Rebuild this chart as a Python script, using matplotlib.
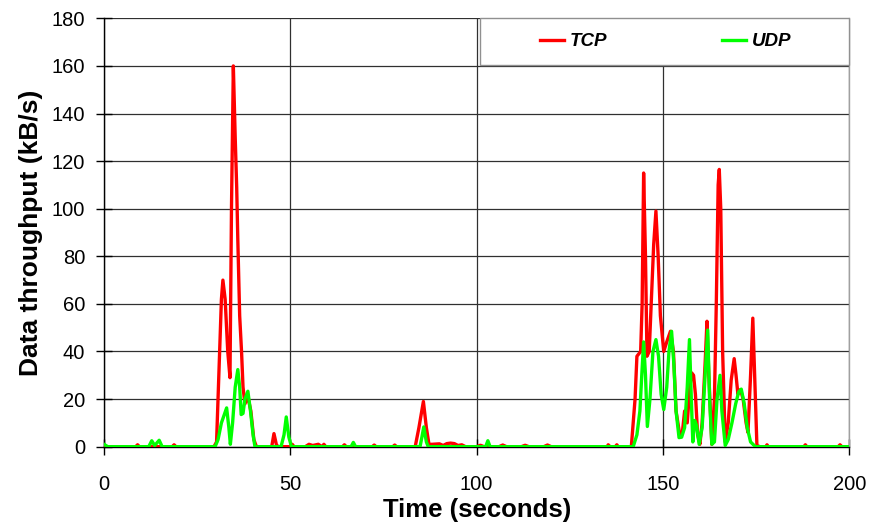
import matplotlib
matplotlib.use("Agg")
import matplotlib.pyplot as plt
from matplotlib.patches import Rectangle

plt.rcParams['font.family'] = ['Liberation Sans', 'DejaVu Sans']

# TCP series (time in s, throughput kB/s)
tcp_t = [0, 8.5, 9, 9.5, 18.3, 18.8, 19.3, 29.5, 30.2, 30.8, 31.5, 31.9, 32.5, 33.2, 33.8,
         34.2, 34.7, 35.2, 35.6, 35.9, 36.4, 36.9, 37.3, 37.8, 38.6, 39.4, 40.2, 40.9,
         45, 45.6, 46.3, 47, 50, 50.5, 51, 54, 55, 56, 57.5, 58.5, 59, 59.5, 64, 64.5, 65,
         72, 72.5, 73, 77.5, 78, 78.5, 83.5, 84.5, 85.7, 86.5, 87.2, 88, 90, 91, 92, 93, 94,
         95, 96, 97, 100, 101, 102, 106, 107, 108, 112, 113, 114, 118, 119, 120,
         135, 135.3, 135.8, 137.2, 137.6, 138,
         141.5, 142.5, 143, 144, 144.4, 144.8, 145.3, 145.7, 146.3, 147.5, 148.1, 148.7,
         149.3, 150.2, 151, 152, 152.8, 153.5, 154.6, 155.2, 155.8, 156.5, 157.2, 157.7,
         158.2, 158.7, 159.3, 159.9, 160.5, 161.3, 161.8, 162.3, 163.1, 163.8, 164.3, 164.8,
         165.1, 165.5, 166, 166.7, 167.5, 168.3, 169.1, 169.6, 170.1, 170.8, 171.5, 172.3,
         172.8, 173.5, 174.1, 174.6, 175.2, 176, 177.6, 177.9, 178.3, 187.8, 188.2, 188.6,
         197, 197.5, 198, 200]
tcp_v = [0, 0, 0.8, 0, 0, 0.8, 0, 0, 2, 30, 62, 70, 62, 40, 29,
         100, 160, 130, 109, 87, 55, 40, 25, 18, 21, 15, 3, 0,
         0, 5.5, 0.5, 0, 0, 1, 0, 0, 1, 0.5, 1, 0, 1, 0, 0, 0.8, 0,
         0, 0.7, 0, 0, 0.7, 0, 0, 8, 19, 8, 1, 1, 1.2, 0.5, 1.3, 1.5, 1.3,
         0.5, 0.8, 0, 0, 0.6, 0, 0, 0.7, 0, 0, 0.6, 0, 0, 0.7, 0,
         0, 0.8, 0, 0, 0.8, 0,
         0, 20, 38, 40, 60, 115, 80, 38, 40, 85, 99, 80,
         55, 40, 44, 48.5, 40, 15, 4, 6, 15, 10, 25, 31,
         30, 22, 5, 1, 10, 35, 52.7, 30, 1, 20, 60, 110,
         116.5, 100, 40, 2, 10, 28, 37, 30, 22, 24, 20, 10,
         6, 30, 54, 30, 0.5, 0, 0, 0.8, 0, 0, 0.8, 0,
         0, 0.8, 0, 0]

# UDP series
udp_t = [0, 0.5, 1, 12, 12.8, 13.6, 14.8, 15.6, 29.8, 30.6, 31.5, 32.9, 33.5, 33.9, 34.5,
         35.2, 35.9, 36.4, 36.8, 37.3, 37.8, 38.6, 39.3, 40, 40.5, 47.5, 48.3, 48.9, 49.6,
         50.3, 66.3, 66.9, 67.5, 84.8, 85.3, 85.8, 86.5, 87, 102.4, 103, 103.6,
         142, 143, 143.8, 144.3, 144.8, 145.3, 145.8, 146.5, 147.3, 148.1, 148.8, 149.5,
         150.2, 151, 151.6, 152.3, 152.9, 153.5, 154.3, 155, 155.8, 156.5, 157.1, 157.6,
         158, 158.5, 159, 159.7, 160.5, 161.3, 162, 162.5, 163.1, 163.8, 164.5, 165.3,
         165.8, 166.7, 167.5, 168.5, 169.5, 170.3, 171, 171.8, 172.6, 173.5, 174.8, 200]
udp_v = [1, 0.5, 0, 0, 2.5, 0.5, 2.7, 0, 0, 3, 10, 16.3, 8, 1, 10,
         25, 32.4, 25, 13.5, 14, 20, 23.3, 15, 5, 0, 0, 5, 12.5, 4,
         0, 0, 1.8, 0, 0, 4, 8.3, 2, 0, 0, 2.5, 0,
         0, 5, 15, 30, 44, 30, 8.5, 20, 40, 45, 38, 22,
         15.6, 25, 40, 48.5, 35, 15, 3.8, 4, 8, 25, 45, 20,
         2, 11, 9, 1, 8, 30, 49, 20, 1, 2, 20, 30,
         15, 0.5, 3, 10, 18, 23, 24.2, 18, 8, 2, 0, 0]

x_ticks = [0, 50, 100, 150, 200]
y_ticks = [0, 20, 40, 60, 80, 100, 120, 140, 160, 180]

fig = plt.figure(figsize=(8.72, 5.27), dpi=100)
ax = fig.add_axes([0.1193, 0.1524, 0.8547, 0.8128])

ax.plot(tcp_t, tcp_v, color='#FF0000', lw=2.4, label='TCP', zorder=3, solid_joinstyle='round')
ax.plot(udp_t, udp_v, color='#00FF00', lw=2.4, label='UDP', zorder=4, solid_joinstyle='round')

ax.set_xlim(0, 200)
ax.set_ylim(0, 180)
ax.set_xticks(x_ticks)
ax.set_yticks(y_ticks)
ax.grid(True, color='#303030', lw=0.9, zorder=1)
ax.set_axisbelow(True)

for s in ['left', 'bottom']:
    ax.spines[s].set_color('black')
    ax.spines[s].set_linewidth(1.0)
ax.spines['top'].set_visible(False)
ax.spines['right'].set_color('#a0a0a0')
ax.spines['right'].set_linewidth(1.0)

ax.tick_params(axis='both', direction='inout', length=11, width=1, labelsize=14.5)
ax.tick_params(axis='x', pad=15)
ax.tick_params(axis='y', pad=8)

ax.set_xlabel('Time (seconds)', fontsize=18.5, fontweight='bold', labelpad=3)
ax.set_ylabel('Data throughput (kB/s)', fontsize=19, fontweight='bold', labelpad=6)

# legend box
bx0, by0, bw, bh = 0.5045, 0.891, 0.4955, 0.109
ax.add_patch(Rectangle((bx0, by0), bw, bh, transform=ax.transAxes, facecolor='white',
                       edgecolor='#909090', lw=1.0, zorder=9, clip_on=False))
leg = ax.legend(loc='center', bbox_to_anchor=(bx0 + bw / 2 + 0.001, by0 + bh / 2),
                ncol=2, frameon=False, handlelength=1.28, handletextpad=0.32,
                columnspacing=6.1, borderaxespad=0,
                prop={'weight': 'bold', 'style': 'italic', 'size': 13.5})
leg.set_zorder(10)

fig.savefig('out.png', dpi=100)
